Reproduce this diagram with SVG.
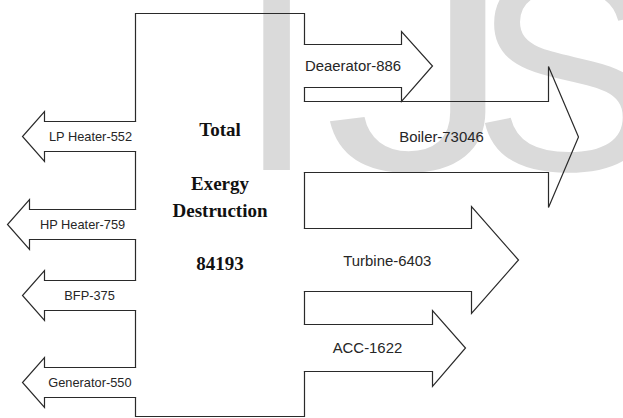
<svg xmlns="http://www.w3.org/2000/svg" width="623" height="418" viewBox="0 0 623 418">
  <style>
    .ln { fill: none; stroke: #2a2a2a; stroke-width: 1.2; stroke-linejoin: miter; stroke-linecap: square; }
    .lbl { font-family: "Liberation Sans", Arial, sans-serif; fill: #262626; }
    .sm { font-size: 12.8px; }
    .lg { font-size: 14.9px; }
    .ttl { font-family: "Liberation Serif", "Times New Roman", serif; font-weight: bold; font-size: 19px; fill: #111; text-anchor: middle; }
    .wm { font-family: "Liberation Sans", Arial, sans-serif; font-size: 285px; fill: #dadada; }
  </style>
  <rect width="623" height="418" fill="#ffffff"/>
  <g id="watermark">
    <text class="wm" x="237" y="170">I</text>
    <text class="wm" x="316" y="170" transform="matrix(1.33 0 0 1 -96.3 0)">J</text>
    <text class="wm" x="472" y="170">S</text>
  </g>

  <g id="total-box">
    <path class="ln" d="M135.5,121.5 V13.5 H304.5 V44.5 M304.5,87.5 V101.5 M304.5,172.5 V228.5 M304.5,291.5 V324.5 M304.5,371.5 V416.5 H135.5 V397.5 M135.5,367.5 V310.5 M135.5,280.5 V239.5 M135.5,209.5 V151.5"/>
    <text class="ttl" x="220" y="136">Total</text>
    <text class="ttl" x="220" y="189.5">Exergy</text>
    <text class="ttl" x="220" y="216.5">Destruction</text>
    <text class="ttl" x="220" y="270">84193</text>
  </g>

  <g id="connectors">
    <g id="lp-heater">
      <path class="ln" d="M135.5,121.5 H44.5 V111.5 L22.5,136.5 L44.5,161.5 V151.5 H135.5"/>
      <text class="lbl sm" x="49" y="141">LP Heater-552</text>
    </g>
    <g id="hp-heater">
      <path class="ln" d="M135.5,209.5 H29.5 V199.5 L7.5,224.5 L29.5,249.5 V239.5 H135.5"/>
      <text class="lbl sm" x="40" y="229">HP Heater-759</text>
    </g>
    <g id="bfp">
      <path class="ln" d="M135.5,280.5 H44.5 V270.5 L22.5,295.5 L44.5,320.5 V310.5 H135.5"/>
      <text class="lbl sm" x="64.3" y="300">BFP-375</text>
    </g>
    <g id="generator">
      <path class="ln" d="M135.5,367.5 H44.5 V357.5 L22.5,382.5 L44.5,407.5 V397.5 H135.5"/>
      <text class="lbl sm" x="48.3" y="387">Generator-550</text>
    </g>
    <g id="deaerator">
      <path class="ln" d="M304.5,44.5 H401.5 V31.5 L432.5,66 L401.5,101.5 V87.5 H304.5"/>
      <text class="lbl lg" x="305" y="71">Deaerator-886</text>
    </g>
    <g id="boiler">
      <path class="ln" d="M304.5,101.5 H548.5 V66.5 L578.5,137 L548.5,207.5 V172.5 H304.5"/>
      <text class="lbl lg" x="399.3" y="141.5">Boiler-73046</text>
    </g>
    <g id="turbine">
      <path class="ln" d="M304.5,228.5 H471.5 V206.5 L518.5,260 L471.5,313.5 V291.5 H304.5"/>
      <text class="lbl lg" x="343.3" y="265.5">Turbine-6403</text>
    </g>
    <g id="acc">
      <path class="ln" d="M304.5,324.5 H432.5 V310.5 L465.5,348 L432.5,386.5 V371.5 H304.5"/>
      <text class="lbl lg" x="332.7" y="353">ACC-1622</text>
    </g>
  </g>
</svg>
